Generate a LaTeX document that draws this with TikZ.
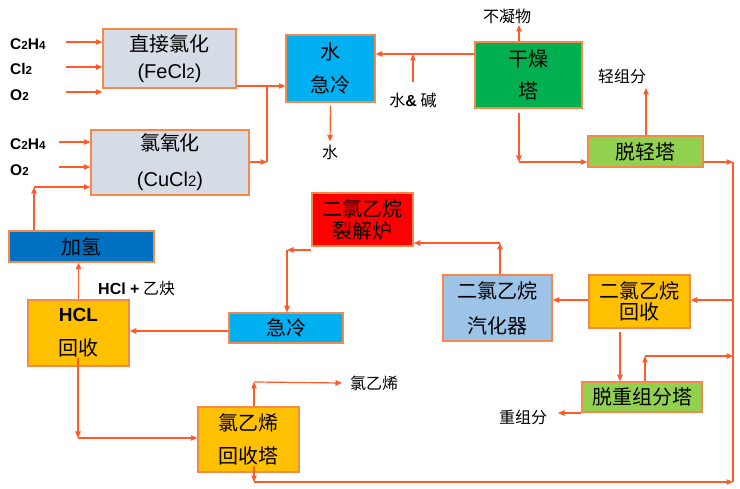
\documentclass[tikz,border=0pt]{standalone}
\usepackage{fontspec}
\setmainfont{Liberation Sans}
\newfontfamily\cjk{Noto Sans CJK SC}
\usetikzlibrary{arrows.meta}
\definecolor{lnc}{HTML}{FF5A2A}
\definecolor{bdc}{HTML}{F4894B}
\definecolor{gryc}{HTML}{D6DCE5}
\definecolor{cyc}{HTML}{00B0F0}
\definecolor{grnc}{HTML}{00B050}
\definecolor{lgrc}{HTML}{92D050}
\definecolor{bluc}{HTML}{0070C0}
\definecolor{orc}{HTML}{FFC000}
\definecolor{redc}{HTML}{FF0000}
\definecolor{lbc}{HTML}{9DC3E6}
\newcommand\sbn[1]{\scalebox{0.75}{#1}}
\tikzset{
 box/.style={draw=bdc, line width=1.5pt, inner sep=0pt, align=center, font=\cjk\fontsize{20}{20}\selectfont},
 lbl/.style={inner sep=0pt, font=\cjk\fontsize{16}{16}\selectfont},
 inlbl/.style={inner sep=0pt, anchor=west, font=\bfseries\fontsize{15.5}{15.5}\selectfont},
 arr/.style={draw=lnc, line width=1.2pt, -{Triangle[length=6.5pt,width=5.5pt]}},
 ln/.style={draw=lnc, line width=1.2pt},
}
\begin{document}
\begin{tikzpicture}[x=1pt,y=-1pt]
\useasboundingbox (0,0) rectangle (740,489);
% boxes
\node[box, fill=gryc, minimum width=133pt, minimum height=59pt] (dc) at (169.5,58.5) {直接氯化\\[7pt]{\rmfamily (FeCl\sbn{2})}};
\node[box, fill=gryc, minimum width=158pt, minimum height=65pt] (ox) at (170,162.5) {氯氧化\\[16pt]{\rmfamily (CuCl\sbn{2})}};
\node[box, fill=cyc, minimum width=89pt, minimum height=67pt] (wq) at (330.5,68.5) {水\\[13pt]急冷};
\node[box, fill=grnc, minimum width=107pt, minimum height=66pt] (dry) at (528.5,75) {干燥\\[12pt]塔};
\node[box, fill=lgrc, minimum width=115pt, minimum height=31pt] (lt) at (645.5,151.5) {脱轻塔};
\node[box, fill=bluc, minimum width=145pt, minimum height=31pt] (hy) at (81.5,246.5) {加氢};
\node[box, fill=orc, minimum width=101pt, minimum height=66pt] (hcl) at (78.5,333) {{\rmfamily\bfseries\fontsize{19}{20}\selectfont HCL}\\[14pt]回收};
\node[box, fill=cyc, minimum width=114pt, minimum height=30pt] (q2) at (286,328) {急冷};
\node[box, fill=redc, minimum width=101pt, minimum height=53pt] (crack) at (362.5,219.5) {二氯乙烷\\[2pt]裂解炉};
\node[box, fill=lbc, minimum width=109pt, minimum height=66pt] (vap) at (497.5,308) {二氯乙烷\\[15pt]汽化器};
\node[box, fill=orc, minimum width=101pt, minimum height=53pt] (rec) at (639.5,301.5) {二氯乙烷\\[1pt]回收};
\node[box, fill=lgrc, minimum width=120pt, minimum height=30pt] (hv) at (642,397) {脱重组分塔};
\node[box, fill=orc, minimum width=101pt, minimum height=65pt] (vcm) at (248.5,439.5) {氯乙烯\\[13pt]回收塔};
% input labels
\node[inlbl] (i1) at (10,44) {C\sbn{2}H\sbn{4}};
\node[inlbl] (i2) at (10,69) {Cl\sbn{2}};
\node[inlbl] (i3) at (10,95) {O\sbn{2}};
\node[inlbl] (i4) at (10,144) {C\sbn{2}H\sbn{4}};
\node[inlbl] (i5) at (10,170) {O\sbn{2}};
% other labels
\node[lbl] (nc) at (507,16) {不凝物};
\node[lbl] (wa) at (413,100) {水{\rmfamily\bfseries\&} 碱};
\node[lbl] (w1) at (330,152) {水};
\node[lbl] (lf) at (622,76) {轻组分};
\node[lbl, anchor=west] (ha) at (98,288) {{\rmfamily\bfseries HCl +} 乙炔};
\node[lbl, anchor=west] (vc) at (350,383) {氯乙烯};
\node[lbl] (hc) at (523,417) {重组分};
% coordinates
\coordinate (s1) at (66,42);
\coordinate (s2) at (66,67);
\coordinate (s3) at (66,92);
\coordinate (s4) at (59,142);
\coordinate (s5) at (59,167);
\coordinate (j1) at (34,187);
\coordinate (j2) at (267,86);
\coordinate (j3) at (267,162);
\coordinate (j4) at (413,54);
\coordinate (s6) at (413,82);
\coordinate (s7) at (519,25);
\coordinate (j5) at (519,162);
\coordinate (s8) at (646,88);
\coordinate (r1) at (733,162);
\coordinate (r2) at (733,300);
\coordinate (r4) at (733,482);
\coordinate (j6) at (500,243);
\coordinate (j7) at (287,250);
\coordinate (j8) at (0,331);
\coordinate (j9) at (78,438);
\coordinate (j10) at (254,382);
\coordinate (j11) at (254,482);
\coordinate (c12) at (620,332);
\coordinate (j13) at (645,356);
\coordinate (c14) at (558,413);
% inputs
\draw[arr] (s1) -- (s1 -| dc.west);
\draw[arr] (s2) -- (s2 -| dc.west);
\draw[arr] (s3) -- (s3 -| dc.west);
\draw[arr] (s4) -- (s4 -| ox.west);
\draw[arr] (s5) -- (s5 -| ox.west);
\draw[arr] (hy.north -| j1) -- (j1);
\draw[arr] (j1) -- (j1 -| ox.west);
% reactors to quench
\draw[arr] (dc.east |- j2) -- (wq.west |- j2);
\draw[arr] (ox.east |- j3) -- (j3);
\draw[ln] (j3) -- (j2);
% dryer
\draw[arr] (dry.west |- j4) -- (wq.east |- j4);
\draw[arr] (s6) -- (j4);
\draw[arr] ([yshift=-3pt]wq.south) -- ([yshift=3pt]w1.north);
\draw[arr] (dry.north -| s7) -- (s7);
\draw[arr] ([yshift=-4pt]dry.south -| j5) -- (j5);
\draw[arr] (j5) -- (j5 -| lt.west);
\draw[arr] (lt.north -| s8) -- (s8);
\draw[arr] (lt.east |- r1) -- (r1);
\draw[ln] (r1) -- (r4);
% EDC recovery
\draw[arr] (r2) -- (rec.east |- r2);
\draw[arr] (rec.west |- r2) -- (vap.east |- r2);
\draw[arr] (vap.north -| j6) -- (j6);
\draw[arr] (j6) -- (j6 -| crack.east);
\draw[arr] (crack.west |- j7) -- (j7);
\draw[arr] (j7) -- (j7 |- q2.north);
\draw[arr] (q2.west |- j8) -- (hcl.east |- j8);
\draw[arr] (hcl.north) -- (hy.south -| hcl.north);
\draw[arr] ([yshift=9pt]hcl.south -| j9) -- (j9);
\draw[arr] (j9) -- (j9 -| vcm.west);
\draw[arr] (vcm.north -| j10) -- (j10);
\draw[arr] (j10) -- ([xshift=-8pt]vc.west);
\draw[arr] ([yshift=7pt]vcm.south -| j11) -- (j11);
\draw[arr] (j11) -- (r4);
\draw[arr] (c12) -- (c12 |- hv.north);
\draw[arr] (hv.north -| j13) -- (j13);
\draw[arr] (j13) -- (j13 -| r1);
\draw[arr] (hv.west |- c14) -- (c14);
\end{tikzpicture}
\end{document}
